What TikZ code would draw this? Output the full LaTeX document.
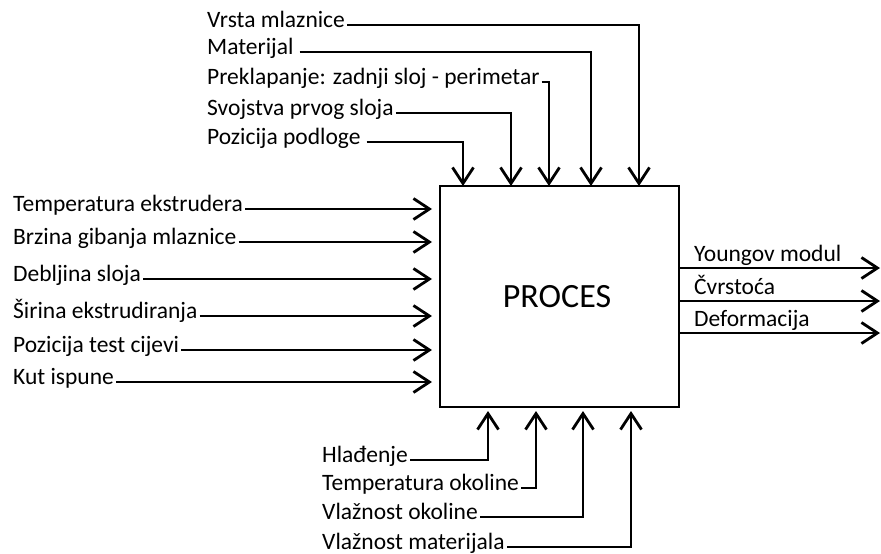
\documentclass[tikz,border=0pt]{standalone}
\usepackage{fontspec}
\setmainfont{Carlito}
\usetikzlibrary{arrows.meta}

\begin{document}
\begin{tikzpicture}[x=1pt,y=-1pt,
  every node/.style={inner sep=2pt,font=\fontsize{23.5}{28}\selectfont,
    text height=0.72em,text depth=0.16em},
  fleche/.style={line width=2.8pt,-{Straight Barb[length=16pt,width=21pt,line width=2.8pt]}},
  boite/.style={draw,line width=2.8pt,minimum width=239pt,minimum height=221pt}]
\useasboundingbox (0,0) rectangle (881,554);
\node[boite] (proces) at (559.5,296.5) {};
\node[font=\fontsize{34}{40}\selectfont,text height=,text depth=] (titre) at (557,297) {PROCES};
% entrées du haut
\coordinate (n1) at (463,186);
\coordinate (n2) at (511,186);
\coordinate (n3) at (549,186);
\coordinate (n4) at (591,186);
\coordinate (n5) at (639,186);
\node[anchor=west] (vrsta) at (205,25) {Vrsta mlaznice};
\node[anchor=west] (materijal) at (205,52) {Materijal\,};
\node[anchor=west] (preklapanje) at (205,82) {Preklapanje: zadnji sloj - perimetar};
\node[anchor=west] (svojstva) at (205,113) {Svojstva prvog sloja};
\node[anchor=west] (podloga) at (205,142) {Pozicija podloge\,};
\draw[fleche] (podloga.east) -| (n1);
\draw[fleche] (svojstva.east) -| (n2);
\draw[fleche] (preklapanje.east) -| (n3);
\draw[fleche] (materijal.east) -| (n4);
\draw[fleche] (vrsta.east) -| (n5);
% entrées de gauche
\coordinate (w) at (432,0);
\node[anchor=west] (temperatura) at (11,209) {Temperatura ekstrudera};
\node[anchor=west] (brzina) at (11,242) {Brzina gibanja mlaznice};
\node[anchor=west] (debljina) at (11,279) {Debljina sloja};
\node[anchor=west] (sirina) at (11,316) {Širina ekstrudiranja};
\node[anchor=west] (cijev) at (11,350) {Pozicija test cijevi};
\node[anchor=west] (kut) at (11,382) {Kut ispune};
\draw[fleche] (temperatura.east) -- (temperatura.east -| w);
\draw[fleche] (brzina.east) -- (brzina.east -| w);
\draw[fleche] (debljina.east) -- (debljina.east -| w);
\draw[fleche] (sirina.east) -- (sirina.east -| w);
\draw[fleche] (cijev.east) -- (cijev.east -| w);
\draw[fleche] (kut.east) -- (kut.east -| w);
% entrées du bas
\coordinate (s1) at (488,411);
\coordinate (s2) at (536,411);
\coordinate (s3) at (583,411);
\coordinate (s4) at (631,411);
\node[anchor=west] (hladenje) at (320,460) {Hlađenje\hspace{7pt}};
\node[anchor=west] (okolina) at (320,488) {Temperatura okoline};
\node[anchor=west] (vlaga) at (320,517) {Vlažnost okoline};
\node[anchor=west] (vlagamat) at (320,547) {Vlažnost materijala};
\draw[fleche] (hladenje.east) -| (s1);
\draw[fleche] (okolina.east) -| (s2);
\draw[fleche] (vlaga.east) -| (s3);
\draw[fleche] (vlagamat.east) -| (s4);
% sorties
\coordinate (e1) at (880,268);
\coordinate (e2) at (880,301);
\coordinate (e3) at (880,333);
\draw[fleche] (proces.east |- e1) -- (e1);
\draw[fleche] (proces.east |- e2) -- (e2);
\draw[fleche] (proces.east |- e3) -- (e3);
\node[anchor=south west] (young) at (692,265) {Youngov modul};
\node[anchor=south west] (cvrstoca) at (692,298) {Čvrstoća};
\node[anchor=south west] (deformacija) at (692,330) {Deformacija};
\end{tikzpicture}
\end{document}
